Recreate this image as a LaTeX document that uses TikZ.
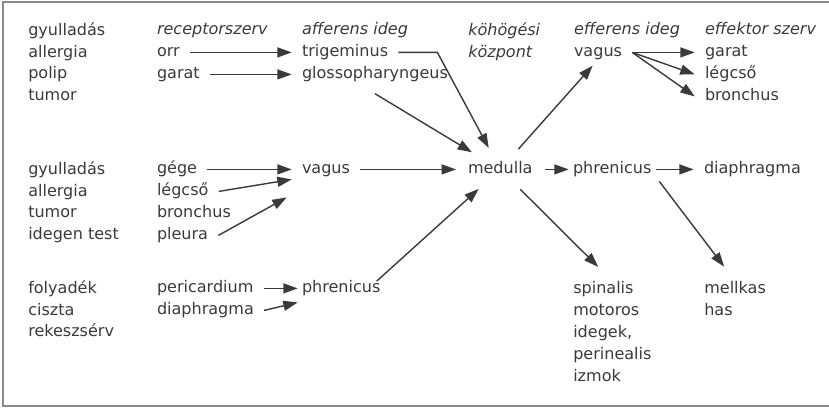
\documentclass[tikz,border=0pt]{standalone}
\usepackage{fontspec}
\setmainfont{DejaVu Sans}
\usetikzlibrary{arrows.meta,shapes.geometric}
\definecolor{ink}{HTML}{3A3A3A}
\definecolor{framegray}{HTML}{8A8A8A}
\newcommand{\diagfont}{\fontsize{11.4}{15.6}\selectfont}

\begin{document}
\begin{tikzpicture}[
    x=0.025cm, y=-0.025cm,
    font=\diagfont, text=ink,
    word/.style={
      anchor=text, inner xsep=2.5mm, inner ysep=0pt,
      text height=0.75em, text depth=0.24em
    },
    colhead/.style={word, font=\diagfont\itshape},
    wordlist/.style={anchor=north west, inner sep=0pt, align=left},
    hub/.style={ellipse, minimum width=2.2cm, minimum height=1.1cm, inner sep=0pt},
    arr/.style={-{Triangle[length=3.6mm, width=2.5mm]}, draw=ink, line width=1pt}
  ]
    \useasboundingbox (0,0) rectangle (829,408);
    \draw[framegray, line width=1pt] (3,2) rectangle (840,406);

    % column headers
    \node[colhead] (hRec) at (157,34) {receptorszerv};
    \node[colhead] (hAff) at (302,34) {afferens ideg};
    \node[wordlist, font=\diagfont\itshape] (hCen) at (468,22) {köhögési\\központ};
    \node[colhead] (hEff) at (574,34) {efferens ideg};
    \node[colhead] (hEfo) at (705,34) {effektor szerv};

    % upper airways
    \node[wordlist] (causeA) at (28,22) {gyulladás\\allergia\\polip\\tumor};
    \node[word] (orr) at (157,56) {orr};
    \node[word] (garatR) at (157,78) {garat};
    \node[word] (trig) at (302,56) {trigeminus};
    \node[word] (glosso) at (302,78) {glossopharyngeus};
    \node[word] (vagE) at (574,56) {vagus};
    \node[word] (garatE) at (705,56) {garat};
    \node[word] (legcsoE) at (705,78) {légcső};
    \node[word] (bronchE) at (705,100) {bronchus};

    % lower airways
    \node[wordlist] (causeB) at (28,161) {gyulladás\\allergia\\tumor\\idegen test};
    \node[word] (gege) at (157,173) {gége};
    \node[word] (legcsoR) at (157,195) {légcső};
    \node[word] (bronchR) at (157,217) {bronchus};
    \node[word] (pleura) at (157,239) {pleura};
    \node[word] (vagA) at (302,173) {vagus};
    \node[word] (medulla) at (468,173) {medulla};
    \node[hub] (medc) at (medulla.center) {};
    \node[word, inner xsep=1mm] (phrM) at (573,173) {phrenicus};
    \node[word] (diaM) at (704,173) {diaphragma};

    % diaphragm
    \node[wordlist] (causeC) at (28,280) {folyadék\\ciszta\\rekeszsérv};
    \node[word] (peric) at (157,292) {pericardium};
    \node[word] (diaR) at (157,314) {diaphragma};
    \node[word, inner xsep=1mm] (phrA) at (302,292) {phrenicus};
    \node[wordlist] (motor) at (573,281) {spinalis\\motoros\\idegek,\\perinealis\\izmok};
    \node[wordlist] (chest) at (704,281) {mellkas\\has};

    % afferent side
    \draw[arr] (orr.east) -- (trig.west);
    \draw[arr] (garatR.east) -- (glosso.west);
    \draw[arr] (gege.east) -- (vagA.west);
    \draw[arr] (legcsoR.east) -- ([yshift=-2.5mm]vagA.west);
    \draw[arr] (pleura.east) -- ([shift={(-1.25mm,-7mm)}]vagA.west);
    \draw[arr] (peric.east) -- (phrA.west);
    \draw[arr] (diaR.east) -- ([yshift=-3.5mm]phrA.west);

    % into the centre
    \draw[arr] (trig.east) -- ++(39,0) -- (medc);
    \draw[arr] ([yshift=-3mm]glosso.south) -- (medc);
    \draw[arr] (vagA.east) -- (medc);
    \draw[arr] ([xshift=-2mm]phrA.north east) -- (medc);

    % efferent side
    \draw[arr, shorten >=2mm] (medc) -- (vagE.south);
    \draw[arr] (vagE.east) -- (garatE.west);
    \draw[arr] (vagE.east) -- (legcsoE.west);
    \draw[arr] (vagE.east) -- (bronchE.west);
    \draw[arr] (medc) -- (phrM.west);
    \draw[arr] (phrM.east) -- (diaM.west);
    \draw[arr, shorten >=5mm] (medc) -- (motor.north);
    \draw[arr, shorten <=1.5mm, shorten >=4.5mm] (phrM.south east) -- (chest.north);
\end{tikzpicture}
\end{document}
